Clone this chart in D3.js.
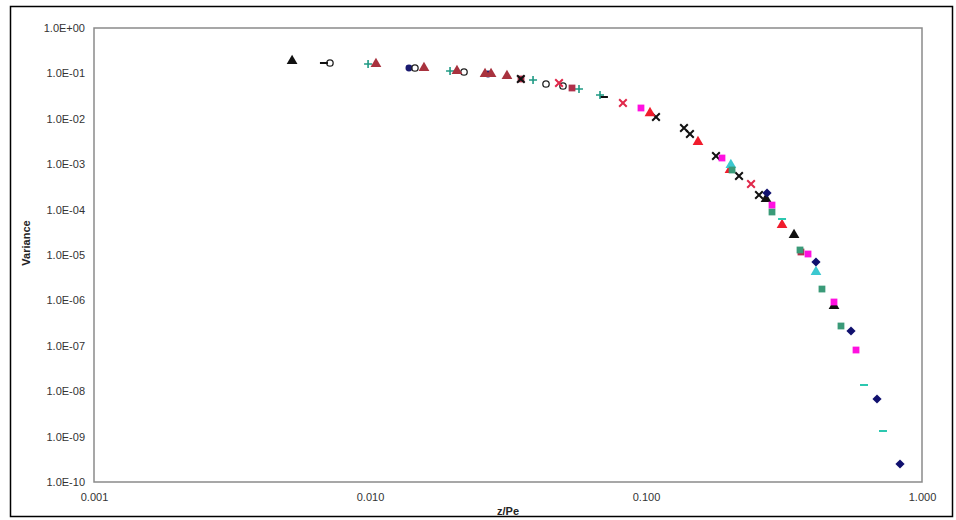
<!DOCTYPE html>
<html><head><meta charset="utf-8">
<script src="https://cdn.jsdelivr.net/npm/d3@7"></script>
<style>body{margin:0;background:#fff}svg{display:block}text{font-family:"Liberation Sans",Arial,sans-serif}</style>
</head><body>
<svg id="c" width="956" height="520"></svg>
<script>
// ---- data ----
const xTicks = [0.001, 0.01, 0.1, 1];
const yTicks = [1, 1e-1, 1e-2, 1e-3, 1e-4, 1e-5, 1e-6, 1e-7, 1e-8, 1e-9, 1e-10];

const navyDiamondX = [0.2745, 0.4129, 0.5531, 0.6871, 0.8324];
const navyDiamondY = [2.32e-4, 7.01e-6, 2.12e-7, 6.73e-9, 2.49e-10];
const magentaSquareX = [0.0959, 0.1885, 0.2861, 0.3864, 0.4799, 0.5767];
const magentaSquareY = [0.0173, 0.001369, 1.26e-4, 1.052e-5, 9.22e-7, 8.08e-8];
const redTriangleX = [0.1034, 0.1543, 0.2015, 0.3111];
const redTriangleY = [0.0134, 0.00308, 7.45e-4, 4.58e-5];
const blackTriangleX = [0.00522, 0.2722, 0.3438, 0.4799];
const blackTriangleY = [0.1875, 1.71e-4, 2.76e-5, 7.53e-7];
const cyanDashX = [0.3111, 0.6165, 0.7222];
const cyanDashY = [6.21e-5, 1.37e-8, 1.33e-9];
const greenSquareX = [0.2050, 0.2861, 0.3614, 0.4341, 0.5087];
const greenSquareY = [7.45e-4, 8.86e-5, 1.29e-5, 1.78e-6, 2.73e-7];
const blackXX = [0.0352, 0.1087, 0.1373, 0.1443, 0.1793, 0.2173, 0.2567];
const blackXY = [0.0753, 0.01096, 0.00627, 0.00463, 0.001516, 5.5e-4, 2.1e-4];
const redXX = [0.0484, 0.0825, 0.2402];
const redXY = [0.0614, 0.0223, 3.66e-4];
const darkRedTriangleX = [0.01051, 0.01569, 0.02066, 0.02611, 0.02745, 0.03135];
const darkRedTriangleY = [0.161, 0.1315, 0.113, 0.097, 0.097, 0.0877];
const openCircleX = [0.00716, 0.01455, 0.02191, 0.04342, 0.05004];
const openCircleY = [0.1695, 0.1315, 0.1074, 0.0584, 0.0528];
const tealPlusX = [0.00984, 0.0195, 0.03897, 0.05718, 0.06813];
const tealPlusY = [0.161, 0.113, 0.0716, 0.0453, 0.0334];
const navyCircleX = [0.01384, 0.02677];
const navyCircleY = [0.1315, 0.097];
const cyanTriangleX = [0.2030, 0.4129];
const cyanTriangleY = [9.6e-4, 4.22e-6];
const darkRedSquareX = [0.03525, 0.05394, 0.3643];
const darkRedSquareY = [0.0753, 0.0477, 1.164e-5];
const blackDashX = [0.00681, 0.0704];
const blackDashY = [0.1695, 0.0302];

const series = [
  {x: navyCircleX, y: navyCircleY, shape: "circle", color: "#1a1a70"},
  {x: openCircleX, y: openCircleY, shape: "ocircle", color: "#222"},
  {x: blackDashX, y: blackDashY, shape: "dash", color: "#111"},
  {x: tealPlusX, y: tealPlusY, shape: "plus", color: "#1f9a84"},
  {x: darkRedTriangleX, y: darkRedTriangleY, shape: "triangle", color: "#a8323e"},
  {x: darkRedSquareX, y: darkRedSquareY, shape: "square", color: "#b0304a"},
  {x: redXX, y: redXY, shape: "x", color: "#e0284a"},
  {x: blackXX, y: blackXY, shape: "x", color: "#111"},
  {x: blackTriangleX, y: blackTriangleY, shape: "triangle", color: "#111"},
  {x: redTriangleX, y: redTriangleY, shape: "triangle", color: "#f01c2c"},
  {x: cyanTriangleX, y: cyanTriangleY, shape: "triangle", color: "#3cc8d0"},
  {x: greenSquareX, y: greenSquareY, shape: "square", color: "#3a9a78"},
  {x: magentaSquareX, y: magentaSquareY, shape: "square", color: "#ff10e0"},
  {x: cyanDashX, y: cyanDashY, shape: "dash", color: "#2cc8b0"},
  {x: navyDiamondX, y: navyDiamondY, shape: "diamond", color: "#10106e"}
];

// ---- layout ----
const svg = d3.select("#c");
const L = 94, R = 922, T = 28, B = 482;
const x = d3.scaleLog().domain([0.001, 1]).range([L, R]);
const y = d3.scaleLog().domain([1e-10, 1]).range([B, T]);

svg.append("rect").attr("x", 10.5).attr("y", 6.5).attr("width", 942).attr("height", 510)
  .attr("fill", "#fff").attr("stroke", "#000").attr("stroke-width", 1.5);
svg.append("rect").attr("x", L).attr("y", T).attr("width", R - L).attr("height", B - T)
  .attr("fill", "#fff").attr("stroke", "#8a8a8a").attr("stroke-width", 1.5);

const yFmt = d => { const e = Math.round(Math.log10(d)); return "1.0E" + (e >= 0 ? "+" : "-") + String(Math.abs(e)).padStart(2, "0"); };
const yAxis = d3.axisLeft(y).tickValues(yTicks).tickFormat(yFmt).tickSize(0).tickPadding(9);
const gy = svg.append("g").attr("transform", `translate(${L},0)`).call(yAxis);
const xAxis = d3.axisBottom(x).tickValues(xTicks).tickFormat(d3.format(".3f")).tickSize(0).tickPadding(11);
const gx = svg.append("g").attr("transform", `translate(0,${B})`).call(xAxis);
[gx, gy].forEach(g => {
  g.select(".domain").remove();
  g.selectAll("text").attr("font-size", 11).attr("fill", "#333").style("font-family", '"Liberation Sans",Arial,sans-serif');
});

svg.append("text").attr("x", 508).attr("y", 515).attr("text-anchor", "middle")
  .attr("font-size", 11).attr("font-weight", "bold").attr("fill", "#222").text("z/Pe");
svg.append("text").attr("transform", "translate(30,243) rotate(-90)").attr("text-anchor", "middle")
  .attr("font-size", 11).attr("font-weight", "bold").attr("fill", "#222").text("Variance");

// ---- markers ----
const sym = {
  triangle: d3.symbol().type(d3.symbolTriangle).size(50)(),
  square: d3.symbol().type(d3.symbolSquare).size(46)(),
  diamond: "M0,-4.6L4.6,0L0,4.6L-4.6,0Z",
  circle: d3.symbol().type(d3.symbolCircle).size(38)(),
};
const gm = svg.append("g");
series.forEach(s => {
  const pts = s.x.map((v, i) => [v, s.y[i]]);
  const g = gm.append("g");
  pts.forEach(([vx, vy]) => {
    const px = x(vx), py = y(vy);
    const t = `translate(${px},${py})`;
    if (s.shape in sym) {
      g.append("path").attr("d", sym[s.shape]).attr("transform", t).attr("fill", s.color);
    } else if (s.shape === "ocircle") {
      g.append("circle").attr("cx", px).attr("cy", py).attr("r", 3.2).attr("fill", "none").attr("stroke", s.color).attr("stroke-width", 1.3);
    } else if (s.shape === "plus") {
      g.append("path").attr("d", "M-4,0H4M0,-4V4").attr("transform", t).attr("stroke", s.color).attr("stroke-width", 1.6);
    } else if (s.shape === "x") {
      g.append("path").attr("d", "M-3.8,-3.8L3.8,3.8M-3.8,3.8L3.8,-3.8").attr("transform", t).attr("stroke", s.color).attr("stroke-width", 2);
    } else if (s.shape === "dash") {
      g.append("path").attr("d", "M-4,0H4").attr("transform", t).attr("stroke", s.color).attr("stroke-width", 2);
    }
  });
});
</script>
</body></html>
